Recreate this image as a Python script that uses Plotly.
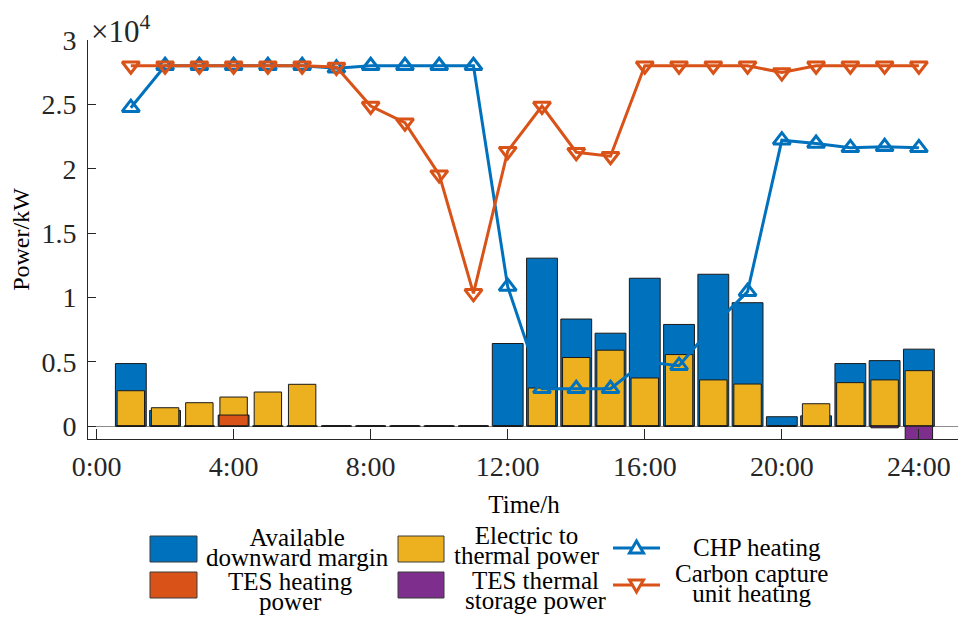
import plotly.graph_objects as go

hours = list(range(1, 25))
available_margin = [4860, 1220, 0, 860, 0, 0, 0, 0, 0, 0, 0, 6420, 13050, 8320, 7220, 11490,
                    7900, 11800, 9590, 730, 800, 4860, 5090, 5980]
electric_thermal = [2750, 1430, 1820, 2260, 2650, 3250, 0, 0, 0, 0, 0, 0, 2960, 5330, 5900, 3740,
                    5560, 3590, 3270, 0, 1740, 3380, 3590, 4310]
tes_heating = [0, 0, 0, 860, 0, 0, 0, 0, 0, 0, 0, 0, 0, 0, 0, 0, 0, 0, 0, 0, 0, 0, 0, 0]
tes_storage = [0, 0, 0, 0, 0, 0, 0, 0, 0, 0, 0, 0, 0, 0, 0, 0, 0, 0, 0, 0, 0, 0, -130, -1200]
chp_heating = [24740, 28000, 28000, 28000, 28000, 28000, 27800, 28000, 28000, 28000, 28000, 10840,
               2900, 2900, 2900, 5000, 4700, 7800, 10450, 22220, 21960, 21620, 21700, 21620]
carbon_heating = [28000, 28000, 28000, 28000, 28000, 28000, 27900, 24870, 23570, 19540, 10320, 21360,
                  24870, 21280, 20970, 28000, 28000, 28000, 28000, 27470, 28000, 28000, 28000, 28000]

x_tickvals = [0, 4, 8, 12, 16, 20, 24]
x_ticktext = ["0:00", "4:00", "8:00", "12:00", "16:00", "20:00", "24:00"]
y_tickvals = [0, 5000, 10000, 15000, 20000, 25000, 30000]
y_ticktext = ["0", "0.5", "1", "1.5", "2", "2.5", "3"]

# legend entries: (label lines, colour)
legend_bars = [
    (["Available", "downward margin"], "#0072BD"),
    (["Electric to", "thermal power"], "#EDB120"),
    (["TES heating", "power"], "#D95319"),
    (["TES thermal", "storage power"], "#7E2F8E"),
]
legend_lines = [
    (["CHP heating"], "#0072BD", "up"),
    (["Carbon capture", "unit heating"], "#D95319", "down"),
]

BLUE = "#0072BD"
ORANGE = "#D95319"
YELLOW = "#EDB120"
PURPLE = "#7E2F8E"
EDGE = "#1a1a1a"
AX = "#262626"
FONT = "Liberation Serif"

# figure geometry (page has an 8px body margin)
W, H = 958, 611
ML, MR, MT, MB = 80, 6, 32, 180
OFF = 8
PX0, PX1 = OFF + ML, OFF + W - MR
PY0, PY1 = OFF + MT, OFF + H - MB


def pxx(x):
    return (x - PX0) / (PX1 - PX0)


def pxy(y):
    return (PY1 - y) / (PY1 - PY0)


def label(lines, size=25):
    # big glyphs with MATLAB-like tight line spacing
    return "<br>".join('<span style="font-size:{}px">{}</span>'.format(size, t) for t in lines)


fig = go.Figure()
fig.add_trace(go.Bar(x=hours, y=available_margin, width=0.9, name="Available downward margin",
                     marker=dict(color=BLUE, line=dict(color=EDGE, width=1))))
fig.add_trace(go.Bar(x=hours, y=electric_thermal, width=0.8, name="Electric to thermal power",
                     marker=dict(color=YELLOW, line=dict(color=EDGE, width=1))))
fig.add_trace(go.Bar(x=hours, y=tes_heating, width=0.85, name="TES heating power",
                     marker=dict(color=ORANGE, line=dict(color=EDGE, width=1))))
fig.add_trace(go.Bar(x=hours, y=tes_storage, width=0.8, name="TES thermal storage power",
                     marker=dict(color=PURPLE, line=dict(color=EDGE, width=1))))
fig.add_trace(go.Scatter(x=hours, y=chp_heating, mode="lines+markers", name="CHP heating",
                         line=dict(color=BLUE, width=3),
                         marker=dict(symbol="triangle-up-open", size=15, color=BLUE, line=dict(width=3))))
fig.add_trace(go.Scatter(x=hours, y=carbon_heating, mode="lines+markers", name="Carbon capture unit heating",
                         line=dict(color=ORANGE, width=3),
                         marker=dict(symbol="triangle-down-open", size=15, color=ORANGE, line=dict(width=3))))

fig.update_layout(
    width=W, height=H,
    margin=dict(l=ML, r=MR, t=MT, b=MB, autoexpand=False),
    paper_bgcolor="white", plot_bgcolor="white",
    barmode="overlay",
    font=dict(family=FONT, color="black", size=24),
    showlegend=False,
    xaxis=dict(range=[-0.25, 25.2], tickvals=x_tickvals, ticktext=x_ticktext,
               ticks="inside", ticklen=10, tickcolor=AX, tickwidth=1,
               showline=True, linecolor=AX, linewidth=1, showgrid=False, zeroline=False,
               tickfont=dict(size=28, family=FONT, color=AX), ticklabelstandoff=2,
               title=dict(text="Time/h", font=dict(size=25, family=FONT), standoff=14)),
    yaxis=dict(range=[-1000, 30000], tickvals=y_tickvals, ticktext=y_ticktext,
               ticks="inside", ticklen=8, tickcolor=AX, tickwidth=1,
               showline=True, linecolor=AX, linewidth=1, showgrid=False,
               zeroline=True, zerolinecolor="#8c8c8c", zerolinewidth=1,
               tickfont=dict(size=28, family=FONT, color=AX), ticklabelstandoff=5,
               title=dict(text="Power/kW", font=dict(size=24, family=FONT), standoff=25)),
)
fig.add_annotation(text="×10<sup>4</sup>", xref="paper", yref="paper", x=pxx(89), y=pxy(8),
                   xanchor="left", yanchor="top", showarrow=False,
                   font=dict(size=31, family=FONT, color=AX))

# ---- legend drawn below the axes (MATLAB style, centred two-line labels) ----
LFS = 25
BASE = 15.5
swatch_x = [(150, 197), (398, 444), (150, 197), (398, 444)]
swatch_y = [(536, 562), (536, 562), (572, 598), (572, 598)]
text_pos = [(297, 547), (527, 545), (290, 591), (536, 590)]
for (lines, col), (sx0, sx1), (sy0, sy1), (tx, ty) in zip(legend_bars, swatch_x, swatch_y, text_pos):
    fig.add_shape(type="rect", xref="paper", yref="paper",
                  x0=pxx(sx0), x1=pxx(sx1), y0=pxy(sy0), y1=pxy(sy1),
                  fillcolor=col, line=dict(color="#3a3a3a", width=1))
    fig.add_annotation(text=label(lines, LFS), xref="paper", yref="paper", x=pxx(tx), y=pxy(ty),
                       xanchor="center", yanchor="middle", showarrow=False, align="center",
                       font=dict(size=BASE, family=FONT, color="black"))

line_y = [548, 585]
text_pos_l = [(757, 547), (751, 583)]
for (lines, col, kind), ly, (tx, ty) in zip(legend_lines, line_y, text_pos_l):
    fig.add_shape(type="line", xref="paper", yref="paper",
                  x0=pxx(613), x1=pxx(660), y0=pxy(ly), y1=pxy(ly),
                  line=dict(color=col, width=3))
    cx = 636.5
    if kind == "up":
        pts = [(cx, ly - 7), (cx - 7, ly + 5), (cx + 7, ly + 5)]
    else:
        pts = [(cx, ly + 7), (cx - 7, ly - 5), (cx + 7, ly - 5)]
    path = "M {} {} L {} {} L {} {} Z".format(*[v for p in pts for v in (pxx(p[0]), pxy(p[1]))])
    fig.add_shape(type="path", xref="paper", yref="paper", path=path,
                  fillcolor="white", line=dict(color=col, width=3))
    fig.add_annotation(text=label(lines, LFS), xref="paper", yref="paper", x=pxx(tx), y=pxy(ty),
                       xanchor="center", yanchor="middle", showarrow=False, align="center",
                       font=dict(size=BASE, family=FONT, color="black"))

fig.write_html("out.html")
